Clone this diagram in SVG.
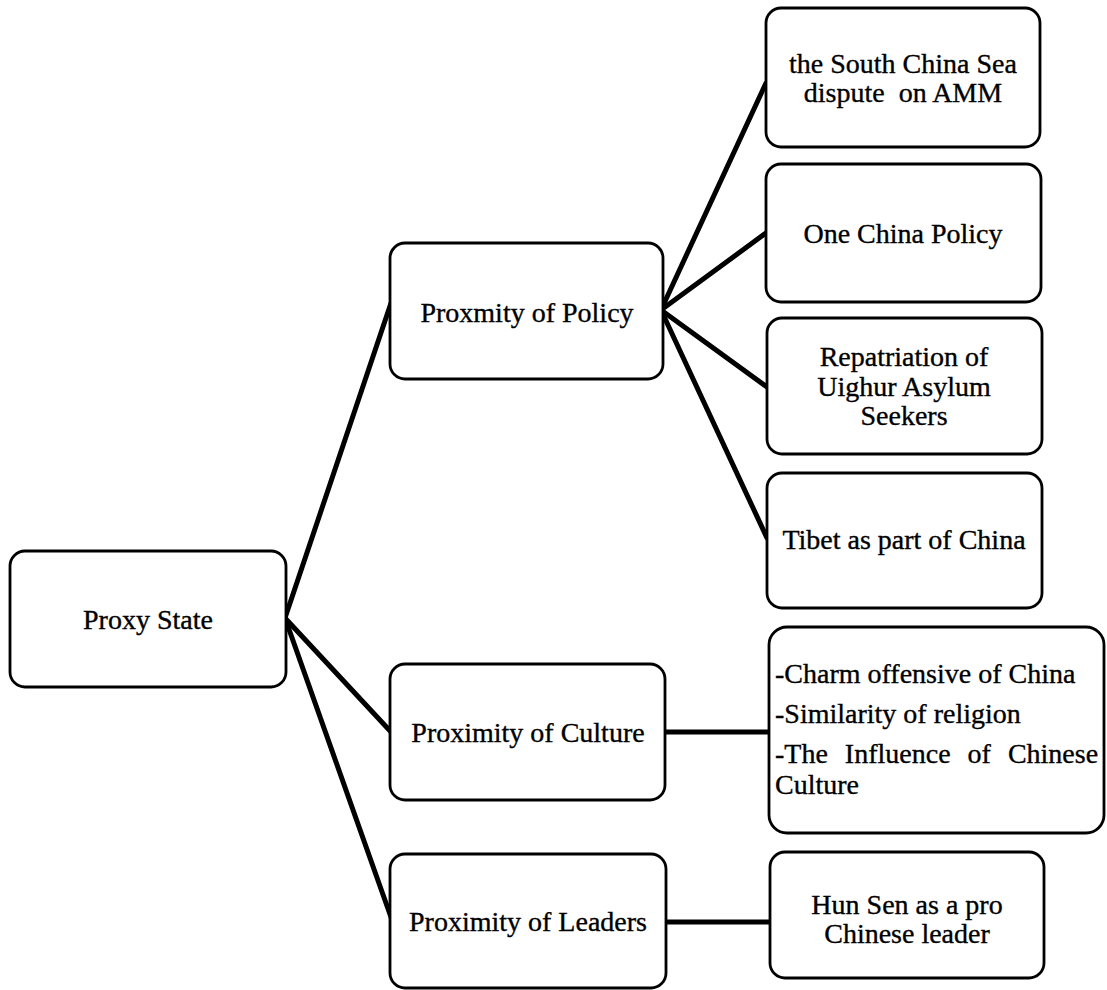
<svg xmlns="http://www.w3.org/2000/svg" width="1107" height="990" viewBox="0 0 1107 990">
<style>
.box{fill:#fff;stroke:#000;stroke-width:2.8}
.t{font-family:'Liberation Serif','DejaVu Serif',serif;font-size:28px;fill:#000;stroke:#000;stroke-width:0.35;text-anchor:middle}
.l{font-family:'Liberation Serif','DejaVu Serif',serif;font-size:28px;fill:#000;stroke:#000;stroke-width:0.35}
.c{stroke:#000;stroke-width:5;fill:none;stroke-linecap:round}
</style>
<rect width="1107" height="990" fill="#fff"/>
<g id="connectors">
<line class="c" x1="285" y1="618" x2="391" y2="303"/>
<line class="c" x1="285" y1="618" x2="392" y2="733"/>
<line class="c" x1="285" y1="618" x2="392" y2="920"/>
<line class="c" x1="661" y1="310" x2="766" y2="83"/>
<line class="c" x1="661" y1="310" x2="766" y2="233"/>
<line class="c" x1="661" y1="310" x2="767" y2="387"/>
<line class="c" x1="661" y1="310" x2="767" y2="538"/>
<line class="c" x1="665" y1="732" x2="769" y2="732"/>
<line class="c" x1="666" y1="922" x2="770" y2="922"/>
</g>
<g id="proxy-state">
<rect class="box" x="10" y="551" width="276" height="136" rx="15"/>
<text class="t" x="148" y="629">Proxy State</text>
</g>
<g id="policy">
<rect class="box" x="390" y="243" width="273" height="136" rx="15"/>
<text class="t" x="527" y="322">Proxmity of Policy</text>
</g>
<g id="culture">
<rect class="box" x="390" y="664" width="275" height="136" rx="15"/>
<text class="t" x="528" y="742">Proximity of Culture</text>
</g>
<g id="leaders">
<rect class="box" x="390" y="854" width="276" height="134" rx="15"/>
<text class="t" x="528" y="931">Proximity of Leaders</text>
</g>
<g id="scs">
<rect class="box" x="766" y="8" width="274" height="139" rx="15"/>
<text class="t" x="903" y="73">the South China Sea</text>
<text class="t" x="903" y="102" xml:space="preserve">dispute  on AMM</text>
</g>
<g id="one-china">
<rect class="box" x="766" y="164" width="275" height="138" rx="15"/>
<text class="t" x="903" y="243">One China Policy</text>
</g>
<g id="uighur">
<rect class="box" x="767" y="318" width="275" height="136" rx="15"/>
<text class="t" x="904" y="366">Repatriation of</text>
<text class="t" x="904" y="396">Uighur Asylum</text>
<text class="t" x="904" y="425">Seekers</text>
</g>
<g id="tibet">
<rect class="box" x="767" y="473" width="275" height="135" rx="15"/>
<text class="t" x="904" y="549">Tibet as part of China</text>
</g>
<g id="culture-items">
<rect class="box" x="769" y="627" width="335" height="206" rx="18"/>
<text class="l" x="775" y="683">-Charm offensive of China</text>
<text class="l" x="775" y="723">-Similarity of religion</text>
<text class="l" x="775" y="763" word-spacing="10">-The Influence of Chinese</text>
<text class="l" x="775" y="794">Culture</text>
</g>
<g id="hun-sen">
<rect class="box" x="770" y="852" width="274" height="126" rx="15"/>
<text class="t" x="907" y="914">Hun Sen as a pro</text>
<text class="t" x="907" y="943">Chinese leader</text>
</g>
</svg>
